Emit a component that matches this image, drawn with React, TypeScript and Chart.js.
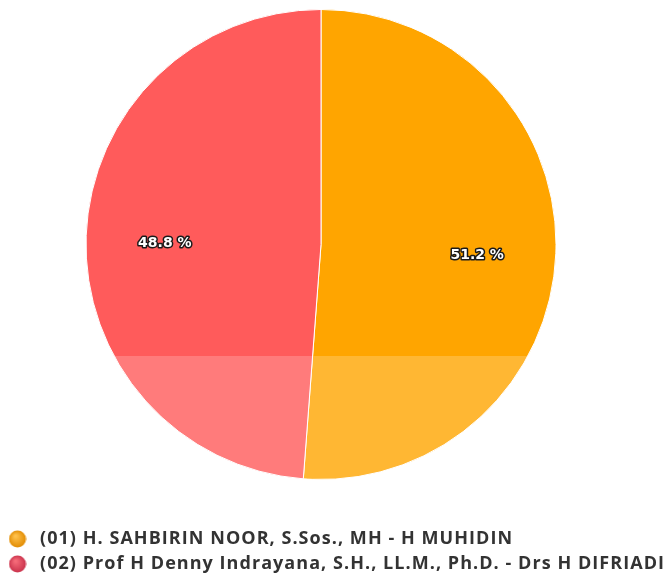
import React, { useEffect, useRef } from "react";
import { Chart, registerables } from "chart.js";

Chart.register(...registerables);

const candidates = [
  "(01) H. SAHBIRIN NOOR, S.Sos., MH - H MUHIDIN",
  "(02) Prof H Denny Indrayana, S.H., LL.M., Ph.D. - Drs H DIFRIADI",
];
const percentages = [51.2, 48.8];
const sliceColors = ["#FFA500", "#FF5B5B"];
const markerLight = ["#FFC04A", "#F56A78"];
const markerDark = ["#E08A00", "#C8304A"];

function makeMarker(light: string, dark: string): HTMLCanvasElement {
  const c = document.createElement("canvas");
  c.width = 18;
  c.height = 18;
  const g = c.getContext("2d")!;
  const grad = g.createRadialGradient(7, 6, 1, 9, 9, 9);
  grad.addColorStop(0, light);
  grad.addColorStop(1, dark);
  g.fillStyle = grad;
  g.beginPath();
  g.arc(9, 9, 8.5, 0, Math.PI * 2);
  g.fill();
  return c;
}

const spacingPlugin = {
  id: "legendSpacing",
  beforeLayout(chart: any) {
    chart.ctx.letterSpacing = "1.05px";
  },
  beforeDraw(chart: any) {
    chart.ctx.letterSpacing = "1.05px";
  },
};

// faint lightening of the lower part, like the watermark in the source image
const watermarkPlugin = {
  id: "watermarkBand",
  afterDatasetsDraw(chart: any) {
    const ctx = chart.ctx;
    const area = chart.chartArea;
    ctx.save();
    ctx.fillStyle = "rgba(255,255,255,0.2)";
    ctx.fillRect(0, 356, chart.width, area.bottom - 356);
    ctx.restore();
  },
};

const labelPlugin = {
  id: "pieLabels",
  afterDatasetsDraw(chart: any) {
    const meta = chart.getDatasetMeta(0);
    const data = chart.data.datasets[0].data as number[];
    const ctx = chart.ctx;
    ctx.save();
    ctx.letterSpacing = "0px";
    ctx.font = "bold 14px 'DejaVu Sans', Verdana, sans-serif";
    ctx.textAlign = "center";
    ctx.textBaseline = "middle";
    ctx.lineJoin = "round";
    meta.data.forEach((arc: any, i: number) => {
      const p = arc.getProps(["x", "y", "startAngle", "endAngle", "outerRadius"], true);
      const mid = (p.startAngle + p.endAngle) / 2;
      const r = p.outerRadius * 0.665;
      const x = p.x + Math.cos(mid) * r;
      const y = p.y + Math.sin(mid) * r + 5;
      const txt = data[i].toFixed(1) + " %";
      ctx.lineWidth = 3;
      ctx.strokeStyle = "#1a1a1a";
      ctx.strokeText(txt, x, y);
      ctx.fillStyle = "#ffffff";
      ctx.fillText(txt, x, y);
    });
    ctx.restore();
  },
};

export default function App() {
  const ref = useRef<HTMLCanvasElement | null>(null);

  useEffect(() => {
    document.body.style.margin = "0";
    document.body.style.overflow = "hidden";
    if (!ref.current) return;
    const markers = candidates.map((_, i) => makeMarker(markerLight[i], markerDark[i]));
    const chart = new Chart(ref.current, {
      type: "pie",
      data: {
        labels: candidates,
        datasets: [
          {
            data: percentages,
            backgroundColor: sliceColors,
            borderColor: "#ffffff",
            borderWidth: 1,
          },
        ],
      },
      options: {
        responsive: true,
        maintainAspectRatio: false,
        animation: false,
        layout: { padding: { top: 9, left: -3, right: 0, bottom: -2 } },
        plugins: {
          tooltip: { enabled: false },
          subtitle: {
            display: true,
            text: "",
            position: "right",
            font: { size: 10 },
            padding: { top: 15, bottom: 0 },
          },
          legend: {
            position: "bottom",
            align: "start",
            title: {
              display: true,
              text: "",
              font: { size: 10 },
              padding: { top: 31, bottom: 0 },
            },
            labels: {
              usePointStyle: true,
              pointStyleWidth: 27,
              padding: 7,
              color: "#333333",
              font: { family: "'Open Sans', 'Noto Sans', sans-serif", size: 18, weight: "bold" },
              generateLabels: (ch: any) =>
                ch.data.labels.map((t: string, i: number) => ({
                  text: t,
                  fillStyle: sliceColors[i],
                  strokeStyle: sliceColors[i],
                  lineWidth: 0,
                  pointStyle: markers[i],
                  hidden: false,
                  index: i,
                  fontColor: "#333333",
                })),
            },
          },
        },
      },
      plugins: [spacingPlugin, watermarkPlugin, labelPlugin],
    });
    return () => chart.destroy();
  }, []);

  return (
    <div style={{ position: "relative", width: 669, height: 581, background: "#ffffff" }}>
      <canvas ref={ref} />
    </div>
  );
}
